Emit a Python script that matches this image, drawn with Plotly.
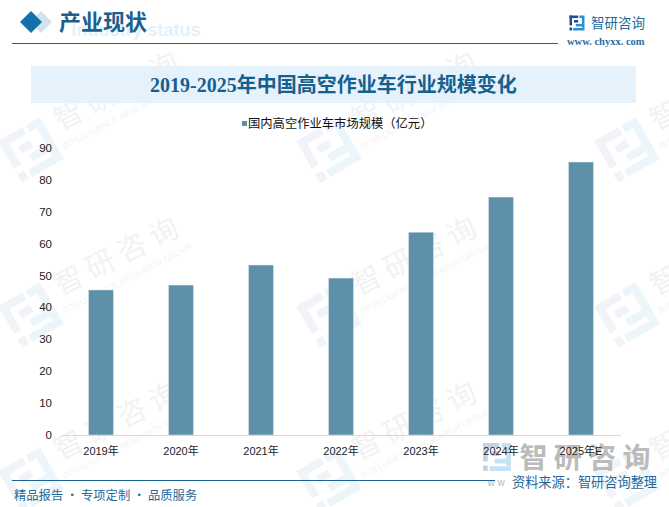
import math
import plotly.graph_objects as go

W, H = 669, 507

years = ['2019年', '2020年', '2021年', '2022年', '2023年', '2024年', '2025年E']
market_size = [45.5, 47.0, 53.3, 49.2, 63.6, 74.6, 85.6]
y_ticks = [0, 10, 20, 30, 40, 50, 60, 70, 80, 90]

series_name = '国内高空作业车市场规模（亿元）'
chart_title = '2019-2025年中国高空作业车行业规模变化'
bar_color = '#5e91a9'
blue = '#1a6496'
cjk = 'Noto Sans CJK SC'
serif = 'Liberation Serif, Noto Sans CJK SC'

# logo pieces: x, y, w, h in a unit square, left half dark, right half light
logo_dark = [(0, 0, .58, .17), (0, 0, .17, .66), (.3, .3, .28, .17), (0, .8, .17, .2)]
logo_light = [(.66, 0, .17, .17), (.83, 0, .17, .82), (.24, .83, .76, .17), (.42, .56, .41, .17)]

# watermark tile anchors (centre of the rotated 智研咨询 text)
wm_x = [117, 415, 713]
wm_y = [93, 258, 423]


def px(x):
    return x / W


def py(y):
    return 1 - y / H


def rect(x0, y0, x1, y1, color, layer='below'):
    return dict(type='rect', xref='paper', yref='paper', x0=px(x0), x1=px(x1), y0=py(y0), y1=py(y1),
                fillcolor=color, line_width=0, layer=layer)


def poly(points, color):
    path = 'M' + ' L'.join(f'{px(a):.5f},{py(b):.5f}' for a, b in points) + ' Z'
    return dict(type='path', xref='paper', yref='paper', path=path, fillcolor=color, line_width=0, layer='below')


def logo(cx, cy, size, dark, light, angle=0):
    out = []
    c, s = math.cos(math.radians(angle)), math.sin(math.radians(angle))
    for pieces, color in ((logo_dark, dark), (logo_light, light)):
        for x, y, w, h in pieces:
            pts = []
            for a, b in ((x, y), (x + w, y), (x + w, y + h), (x, y + h)):
                u, v = (a - .5) * size, (b - .5) * size
                pts.append((cx + u * c + v * s, cy - u * s + v * c))
            out.append(poly(pts, color))
    return out


def label(x, y, text, size, color, anchor='left', family=cjk, angle=0):
    return dict(xref='paper', yref='paper', x=px(x), y=py(y), text=text, showarrow=False,
                xanchor=anchor, yanchor='middle', textangle=angle, font=dict(family=family, size=size, color=color))


# annotations always sit above the bars, a shape label in the below layer does not
def under_label(x, y, text, size, color, angle, family=cjk):
    s = rect(x - 1, y - 1, x + 1, y + 1, 'rgba(0,0,0,0)')
    s['label'] = dict(text=text, textangle=angle, textposition='middle center',
                      xanchor='center', yanchor='middle', font=dict(family=family, size=size, color=color))
    return s


shapes = []
notes = []

# background watermarks
for tx in wm_x:
    for ty in wm_y:
        shapes += logo(tx - 86, ty + 57, 48, '#f0f3f7', '#ebf5fa', 30)
        shapes.append(under_label(tx, ty, '智 研 咨 询', 29, '#f2f2f2', -27))
        shapes.append(under_label(tx + 10, ty + 20, 'INTELLIGENCE RESEARCH GROUP', 8.5, '#f3f3f3', -27,
                                  family='Liberation Sans'))

# header
shapes.append(poly([(41, 11), (52, 22), (41, 33), (30, 22)], '#d3e3ee'))
shapes.append(poly([(31, 11), (42, 22), (31, 33), (20, 22)], '#1270aa'))
shapes.append(rect(12, 43, 558, 44, blue))
shapes.append(under_label(136, 28, '<b>Industry status</b>', 18, '#e3f1fa', 0, family='Liberation Sans'))
notes.append(label(57, 22, '<b>产业现状</b>', 22, '#1b5f8e', family=serif))
shapes += logo(577, 23, 15, '#1d4f8c', '#2a8fd0')
notes.append(label(589, 22, '智研咨询', 13.5, '#1b6aa0'))
notes.append(label(565, 42, '<b>www. chyxx. com</b>', 10.5, '#2b6f9e', family=serif))

# title band
shapes.append(rect(31, 66, 636, 103, '#e5f2fb'))
notes.append(label(333.5, 85, f'<b>{chart_title}</b>', 20, '#16608f', 'center', family=serif))

# legend
shapes.append(rect(242, 121, 247, 126, bar_color))
notes.append(label(246, 123, series_name, 12.3, '#111111'))

# footer
shapes += logo(497, 457, 28, '#c5d2e6', '#c6e1f3')
shapes.append(under_label(585, 460, '<b>智 研 咨 询</b>', 28, '#bbbbbb', 0))
shapes.append(under_label(496, 481, 'w w', 10, '#b8b8b8', 0, family='Liberation Sans'))
shapes.append(rect(12, 480, 495, 481, blue))
notes.append(label(510, 481, '资料来源：智研咨询整理', 13.2, '#1f6a9b'))
notes.append(label(12, 495, '精品报告 · 专项定制 · 品质服务', 12.3, '#1f6a9b'))

fig = go.Figure(go.Bar(x=years, y=market_size, marker_color=bar_color, name=series_name))

fig.update_layout(
    width=W, height=H,
    margin=dict(l=0, r=0, t=0, b=0, autoexpand=False),
    paper_bgcolor='white', plot_bgcolor='rgba(0,0,0,0)',
    bargap=0.6875,
    showlegend=False,
    shapes=shapes,
    annotations=notes,
)
fig.update_xaxes(domain=[px(61), px(621)], showline=True, linecolor='#d9d9d9', linewidth=1,
                 tickfont=dict(family='Liberation Sans, ' + cjk, size=11, color='#222222'),
                 ticks='', ticklabelstandoff=6, showgrid=False, fixedrange=True)
fig.update_yaxes(domain=[py(435), py(148)], range=[0, 90], tickvals=y_ticks, showgrid=False, zeroline=False,
                 tickfont=dict(family='Liberation Sans', size=11.5, color='#222222'),
                 ticks='', ticklabelstandoff=8, fixedrange=True)

fig.write_html("out.html", config={'displayModeBar': False},
               post_script="document.body.style.margin='0';document.body.style.overflow='hidden';")
